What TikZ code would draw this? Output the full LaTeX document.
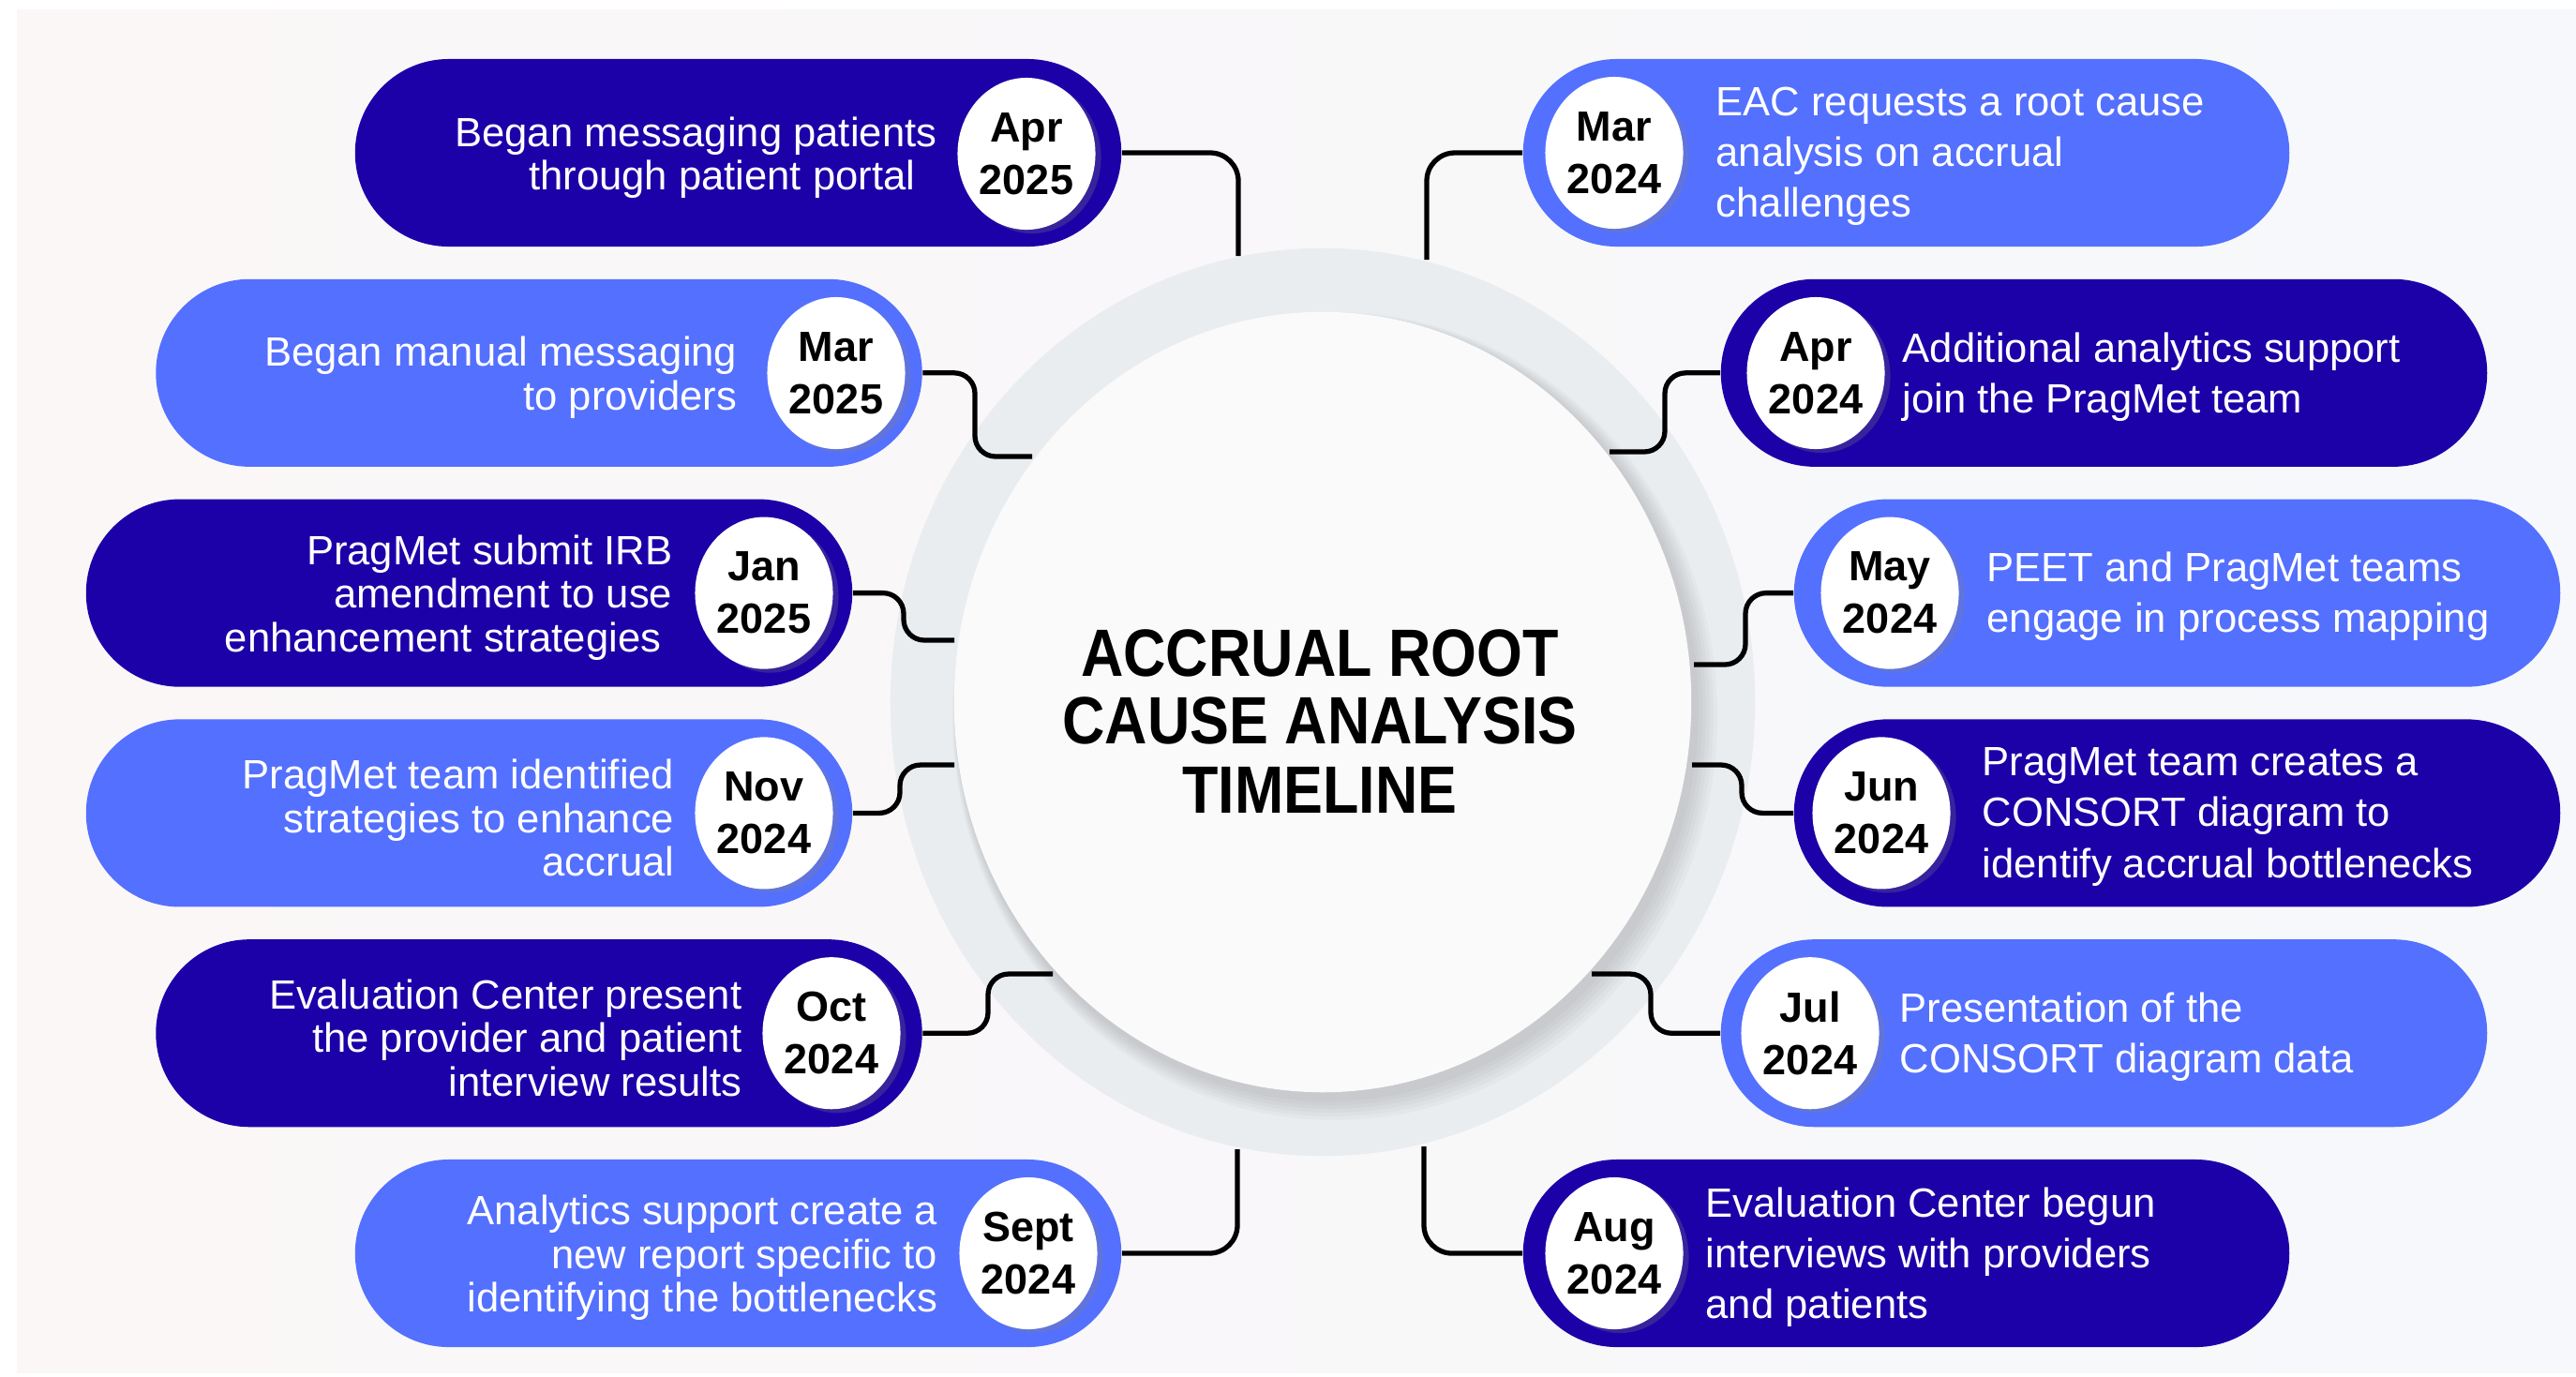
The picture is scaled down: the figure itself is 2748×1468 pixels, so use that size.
\documentclass[tikz,border=0pt]{standalone}
\usepackage{fontspec}
\setmainfont{Liberation Sans}
\newfontfamily\titlefont{Liberation Sans}[FakeStretch=0.88]
\usetikzlibrary{shapes.geometric,shadows}
\definecolor{navy}{RGB}{28,0,168}
\definecolor{lblue}{RGB}{84,112,255}
\definecolor{bgl}{RGB}{251,247,247}
\definecolor{bgr}{RGB}{246,248,251}
\definecolor{ringc}{RGB}{234,237,240}
\definecolor{innerc}{RGB}{250,250,250}
\newcommand\myBodyFont{\fontsize{12.4pt}{13.2pt}\selectfont}
\newcommand\myBodyFontR{\fontsize{12.4pt}{15.4pt}\selectfont}
\newcommand\myDateFont{\bfseries\fontsize{12.8pt}{15.9pt}\selectfont}
\newcommand\myTitleFont{\titlefont\bfseries\fontsize{20.3pt}{20.8pt}\selectfont}
\begin{document}
\begin{tikzpicture}[x=0.01cm,y=-0.01cm,
  pill/.style={rectangle, rounded corners=1cm, minimum width=8.17cm, minimum height=2cm, inner sep=0pt},
  pd/.style={pill, fill=navy},
  pl/.style={pill, fill=lblue},
  datec/.style={ellipse, fill=white, minimum width=1.47cm, minimum height=1.62cm, inner sep=0pt,
    align=center, font=\myDateFont, text=black,
    drop shadow={shadow xshift=0.06cm, shadow yshift=-0.04cm, opacity=0.28}},
  txtL/.style={text=white, align=right, anchor=east, inner sep=0pt, font=\myBodyFont, yshift=-0.05cm},
  txtR/.style={text=white, align=left, anchor=west, inner sep=0pt, font=\myBodyFontR, yshift=-0.04cm},
  ttl/.style={anchor=base, inner sep=0pt, font=\myTitleFont, text=black},
  conn/.style={line width=1.5pt, draw=black, rounded corners=0.22cm},
  connB/.style={line width=1.5pt, draw=black, rounded corners=0.3cm}
]
\useasboundingbox (0,0) rectangle (2748,1468);
\fill[white] (0,0) rectangle (2748,1468);
\fill[left color=bgl, right color=bgr] (18,10) rectangle (2748,1464);

% centre
\node[ellipse, fill=ringc, minimum width=9.22cm, minimum height=9.68cm, inner sep=0pt] (ring) at (1411,749) {};
\foreach \i in {1,...,6}{
  \fill[black, opacity=0.025] (1411+4+\i*1.5,749+6+\i*1.5) ellipse ({393+\i*2.5} and {416+\i*2.5});
}

% pills left
\node[pd] (p1) at (787.5,163) {};
\node[pl] (p2) at (575,397.8) {};
\node[pd] (p3) at (500.5,632.6) {};
\node[pl] (p4) at (500.5,867.4) {};
\node[pd] (p5) at (575,1102.2) {};
\node[pl] (p6) at (787.5,1337) {};
% pills right
\node[pl] (p7) at (2033.5,163) {};
\node[pd] (p8) at (2244.5,397.8) {};
\node[pl] (p9) at (2322.5,632.6) {};
\node[pd] (p10) at (2322.5,867.4) {};
\node[pl] (p11) at (2244.5,1102.2) {};
\node[pd] (p12) at (2033.5,1337) {};

% connector targets
\coordinate (c1) at (1321,273);
\coordinate (v2) at (1040,487); \coordinate (c2) at (1101,487);
\coordinate (v3) at (964,683);  \coordinate (c3) at (1018,683);
\coordinate (v4) at (960,816);  \coordinate (c4) at (1018,816);
\coordinate (v5) at (1054,1039); \coordinate (c5) at (1123,1039);
\coordinate (c6) at (1320,1226);
\coordinate (c7) at (1522,277);
\coordinate (v8) at (1776,482); \coordinate (c8) at (1717,482);
\coordinate (v9) at (1862,709); \coordinate (c9) at (1807,709);
\coordinate (v10) at (1858,816); \coordinate (c10) at (1805,816);
\coordinate (v11) at (1761,1039); \coordinate (c11) at (1698,1039);
\coordinate (c12) at (1519,1223);

\draw[connB] (p1.east) -| (c1);
\draw[conn] (p2.east) -| (v2) -- (c2);
\draw[conn] (p3.east) -| (v3) -- (c3);
\draw[conn] (p4.east) -| (v4) -- (c4);
\draw[conn] (p5.east) -| (v5) -- (c5);
\draw[connB] (p6.east) -| (c6);
\draw[connB] (p7.west) -| (c7);
\draw[conn] (p8.west) -| (v8) -- (c8);
\draw[conn] (p9.west) -| (v9) -- (c9);
\draw[conn] (p10.west) -| (v10) -- (c10);
\draw[conn] (p11.west) -| (v11) -- (c11);
\draw[connB] (p12.west) -| (c12);

\node[ellipse, fill=innerc, minimum width=7.86cm, minimum height=8.32cm, inner sep=0pt] (core) at (1411,749) {};

% title
\node[ttl] (tt1) at (1408,721) {ACCRUAL ROOT};
\node[ttl] (tt2) at (1408,793) {CAUSE ANALYSIS};
\node[ttl] (tt3) at (1408,867) {TIMELINE};

% dates
\node[datec] (d1) at (1095,164) {Apr\\2025};
\node[datec] (d2) at (892,398) {Mar\\2025};
\node[datec] (d3) at (815,632.6) {Jan\\2025};
\node[datec] (d4) at (815,867.4) {Nov\\2024};
\node[datec] (d5) at (887,1102.2) {Oct\\2024};
\node[datec] (d6) at (1097,1337) {Sept\\2024};
\node[datec] (d7) at (1722,163) {Mar\\2024};
\node[datec] (d8) at (1937,398) {Apr\\2024};
\node[datec] (d9) at (2016,632.6) {May\\2024};
\node[datec] (d10) at (2007,867.4) {Jun\\2024};
\node[datec] (d11) at (1931,1102.2) {Jul\\2024};
\node[datec] (d12) at (1722,1337) {Aug\\2024};

% texts
\node[txtL] (t1) at (1000,163) {Began messaging patients\\through patient portal\hspace*{0.23cm}};
\node[txtL] (t2) at (787,397.8) {Began manual messaging\\to providers};
\node[txtL] (t3) at (718,632.6) {PragMet submit IRB\\amendment to use\\enhancement strategies\hspace*{0.12cm}};
\node[txtL] (t4) at (720,867.4) {PragMet team identified\\strategies to enhance\\accrual};
\node[txtL] (t5) at (792,1102.2) {Evaluation Center present\\the provider and patient\\interview results};
\node[txtL] (t6) at (1001,1337) {Analytics support create a\\new report specific to\\identifying the bottlenecks};
\node[txtR] (t7) at (1830,163) {EAC requests a root cause\\analysis on accrual\\challenges};
\node[txtR] (t8) at (2029,397.8) {Additional analytics support\\join the PragMet team};
\node[txtR] (t9) at (2119,632.6) {PEET and PragMet teams\\engage in process mapping};
\node[txtR] (t10) at (2114,867.4) {PragMet team creates a\\CONSORT diagram to\\identify accrual bottlenecks};
\node[txtR] (t11) at (2026,1102.2) {Presentation of the\\CONSORT diagram data};
\node[txtR] (t12) at (1819,1337) {Evaluation Center begun\\interviews with providers\\and patients};
\end{tikzpicture}
\end{document}
